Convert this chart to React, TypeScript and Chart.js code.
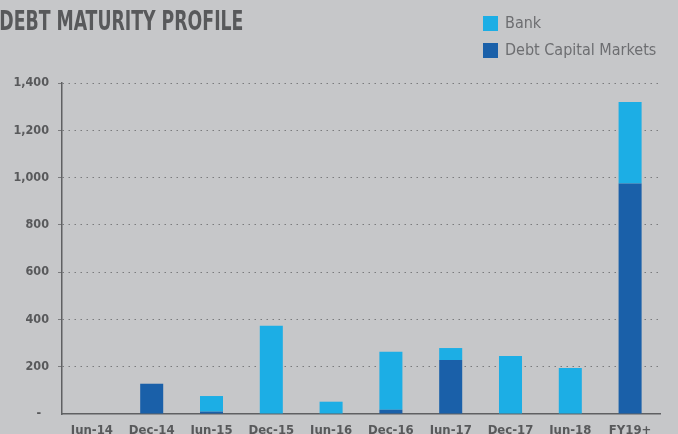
import React, { useEffect, useRef } from "react";
import { Chart, registerables } from "chart.js";

Chart.register(...registerables);

const categories = ["Jun-14", "Dec-14", "Jun-15", "Dec-15", "Jun-16", "Dec-16", "Jun-17", "Dec-17", "Jun-18", "FY19+"];
const dcmValues = [0, 128, 10, 0, 0, 18, 228, 0, 0, 975];
const bankValues = [0, 0, 66, 373, 52, 245, 51, 245, 195, 345];
const yTicks = [0, 200, 400, 600, 800, 1000, 1200, 1400];
const titleText = "DEBT MATURITY PROFILE";

const FONT = "'DejaVu Sans Condensed', 'Liberation Sans', sans-serif";
const BG = "#c6c7c9";
const BANK = "#1caee5";
const DCM = "#1a60a9";

const overlayPlugin = {
  id: "overlay",
  afterDraw(chart: any) {
    const ctx = chart.ctx;
    ctx.save();
    ctx.fillStyle = "#58595b";
    ctx.font = `bold 26px ${FONT}`;
    ctx.textBaseline = "middle";
    ctx.textAlign = "left";
    ctx.save();
    ctx.scale(0.74, 1);
    ctx.fillText(titleText, -1, 23);
    ctx.restore();
    // legend (reverse order of stacking)
    const ds = chart.data.datasets.slice().reverse();
    ctx.font = `16px ${FONT}`;
    ds.forEach((d: any, i: number) => {
      const y = 16 + i * 27;
      ctx.fillStyle = d.backgroundColor;
      ctx.fillRect(483, y, 15, 15);
      ctx.fillStyle = "#6d6e71";
      ctx.fillText(d.label, 505, y + 8);
    });
    ctx.restore();
  },
};

export default function App() {
  const ref = useRef<HTMLCanvasElement>(null);
  useEffect(() => {
    if (!ref.current) return;
    const chart = new Chart(ref.current, {
      type: "bar",
      data: {
        labels: categories,
        datasets: [
          { label: "Debt Capital Markets", data: dcmValues, backgroundColor: DCM, barPercentage: 0.385, categoryPercentage: 1 },
          { label: "Bank", data: bankValues, backgroundColor: BANK, barPercentage: 0.385, categoryPercentage: 1 },
        ],
      },
      options: {
        animation: false,
        responsive: false,
        maintainAspectRatio: false,
        layout: { padding: { top: 83, right: 18, bottom: 0, left: 0 } },
        plugins: { legend: { display: false }, tooltip: { enabled: false }, title: { display: false } },
        scales: {
          x: {
            stacked: true,
            grid: { display: false, drawTicks: false },
            border: { display: true, color: "#5f6062", width: 1.5 },
            ticks: { color: "#58595b", font: { family: FONT, size: 13, weight: "bold" }, padding: 9, maxRotation: 0, autoSkip: false },
            afterFit(scale: any) { scale.height = 20; },
          },
          y: {
            stacked: true,
            min: 0,
            max: 1400,
            afterBuildTicks(scale: any) { scale.ticks = yTicks.map((v) => ({ value: v })); },
            grid: {
              color: (c: any) => (c.tick && c.tick.value === 0 ? "rgba(0,0,0,0)" : "#7a7b7d"),
              lineWidth: 1,
              tickLength: 4,
              tickColor: (c: any) => (c.tick && c.tick.value === 0 ? "rgba(0,0,0,0)" : "#7a7b7d"),
            },
            border: { display: true, color: "#5f6062", width: 1.5, dash: [1.5, 4.5] },
            ticks: {
              color: "#58595b",
              font: { family: FONT, size: 12.5, weight: "bold" },
              padding: 9,
              callback: (v: any) => (v === 0 ? "-  " : Number(v).toLocaleString("en-US")),
            },
            afterFit(scale: any) { scale.width = 62; },
          },
        },
      },
      plugins: [overlayPlugin],
    } as any);
    return () => chart.destroy();
  }, []);
  return (
    <div style={{ position: "fixed", left: 0, top: 0, width: 678, height: 434, background: BG, overflow: "hidden" }}>
      <canvas ref={ref} width={678} height={434} style={{ display: "block" }} />
    </div>
  );
}
